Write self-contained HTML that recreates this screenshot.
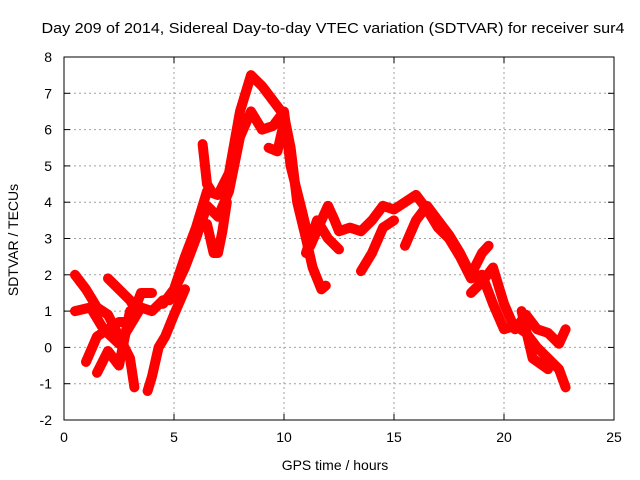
<!DOCTYPE html>
<html><head><meta charset="utf-8"><style>
body{margin:0;background:#fff}
svg{display:block}
text{font-family:"Liberation Sans",sans-serif;font-size:14px;fill:#000}
</style></head><body>
<svg id="chart" width="640" height="480">
<text x="333" y="33" text-anchor="middle" textLength="583" lengthAdjust="spacingAndGlyphs" style="font-size:15px">Day 209 of 2014, Sidereal Day-to-day VTEC variation (SDTVAR) for receiver sur4</text>
<text x="335" y="470" text-anchor="middle">GPS time / hours</text>
<text transform="translate(18,240) rotate(-90)" text-anchor="middle">SDTVAR / TECUs</text>
<g id="grid"></g><g id="series"></g><g id="axes"></g>
</svg>
<script>
const xTicks=[0,5,10,15,20,25];
const yTicks=[-2,-1,0,1,2,3,4,5,6,7,8];
const trackA=[[4.5,1.2],[5,1.6],[5.5,2.5],[6,3.3],[6.5,4.3],[7,4.2],[7.5,4.8],[8,6.5],[8.5,7.5],[9,7.2],[9.5,6.8],[10,6.4],[10.3,5.5],[10.6,4],[11,3],[11.3,2.2],[11.7,1.6],[11.9,1.7]];
const trackB=[[4.8,1.3],[5.5,2.2],[6,3],[6.5,3.9],[7,3.6],[7.5,4.3],[8,5.8],[8.5,6.5],[9,6],[9.5,6.1],[10,6.5],[10.3,5],[10.8,3.8],[11.2,2.8],[11.7,3.5],[12,3.9],[12.3,3.5],[12.5,3.2],[13,3.3],[13.5,3.2],[14,3.5],[14.5,3.9],[15,3.8],[15.5,4],[16,4.2],[16.5,3.8],[17,3.3],[17.5,3],[18,2.5],[18.5,1.9],[19,2],[19.5,1.2],[20,0.5],[20.5,0.6],[21,0.4],[21.5,0],[22,-0.3],[22.5,-0.6],[22.8,-1.1]];
const trackC=[[6.5,3.4],[6.8,2.6],[7,2.6],[7.2,3.2],[7.4,4]];
const trackD1=[[0.5,2],[1,1.6],[1.5,1.1],[2,0.9],[2.5,0.3],[3,-0.3],[3.2,-1.1]];
const trackD2=[[0.5,1],[1.2,1.1],[1.8,0.5],[2.5,0.1],[3,0.6],[3.5,1.1],[4,1.0],[4.5,1.3]];
const trackD3=[[1,-0.4],[1.5,0.3],[2,0.5],[2.5,0.7],[3,0.7],[3.5,1.5],[4,1.5]];
const trackD4=[[1.5,-0.7],[2,-0.1],[2.5,-0.5],[3,1.0]];
const trackD5=[[2,1.9],[2.5,1.6],[3,1.3],[3.3,1.0]];
const trackD6=[[3.8,-1.2],[4,-0.8],[4.3,0],[4.6,0.3],[5,0.9],[5.5,1.6]];
const trackSpike=[[6.3,5.6],[6.5,4.5],[6.7,4.3]];
const trackE=[[9.3,5.5],[9.7,5.4],[10,6.2]];
const trackF1=[[11,2.6],[11.5,3.5],[12,3.0],[12.5,2.7]];
const trackF2=[[13.5,2.1],[14,2.6],[14.5,3.3],[15,3.5]];
const trackF3=[[15.5,2.8],[16,3.5],[16.5,3.9],[17,3.5],[17.5,3.1],[18,2.6],[18.5,2.0],[19,2.6],[19.3,2.8]];
const trackF4=[[18.5,1.5],[19,1.8],[19.5,2.2],[20,1.2],[20.5,0.5],[21,0.9],[21.5,0.5],[22,0.4],[22.5,0.1],[22.8,0.5]];
const trackF5=[[20.8,1],[21.3,-0.3],[22,-0.6]];
const tracks=[trackA,trackB,trackC,trackD1,trackD2,trackD3,trackD4,trackD5,trackD6,trackSpike,trackE,trackF1,trackF2,trackF3,trackF4,trackF5];
const L=64,R=614,T=57,B=420;
const xs=t=>L+(t-0)/25*(R-L);
const ys=v=>B-(v+2)/10*(B-T);
const NS='http://www.w3.org/2000/svg';
const grid=document.getElementById('grid'),axes=document.getElementById('axes'),ser=document.getElementById('series');
function mk(tag,attrs,parent){const e=document.createElementNS(NS,tag);for(const k in attrs)e.setAttribute(k,attrs[k]);parent.appendChild(e);return e;}
xTicks.forEach(t=>{
 if(t>0&&t<25){const g=mk('line',{x1:xs(t),x2:xs(t),y1:T,y2:B,stroke:'#a0a0a0','stroke-dasharray':'2,3'},grid);
 
 }
 const tx=mk('text',{x:xs(t),y:B+22,'text-anchor':'middle'},axes);tx.textContent=t;
 
 
 mk('line',{x1:xs(t),x2:xs(t),y1:B,y2:B-6,stroke:'#000'},axes);
 mk('line',{x1:xs(t),x2:xs(t),y1:T,y2:T+6,stroke:'#000'},axes);
});
yTicks.forEach(v=>{
 if(v>-2&&v<8){const g=mk('line',{x1:L,x2:R,y1:ys(v),y2:ys(v),stroke:'#a0a0a0','stroke-dasharray':'2,3'},grid);
 
 }
 const tx=mk('text',{x:L-12,y:ys(v)+5,'text-anchor':'end'},axes);tx.textContent=v;
 
 
 mk('line',{x1:L,x2:L+6,y1:ys(v),y2:ys(v),stroke:'#000'},axes);
 mk('line',{x1:R,x2:R-6,y1:ys(v),y2:ys(v),stroke:'#000'},axes);
});
const fr=mk('rect',{x:L,y:T,width:R-L,height:B-T,fill:'none',stroke:'#000'},axes);


tracks.forEach(tr=>{
 const p=mk('polyline',{points:tr.map(d=>xs(d[0])+','+ys(d[1])).join(' '),fill:'none',stroke:'#ff0000','stroke-width':10,'stroke-linejoin':'round','stroke-linecap':'round'},ser);
 
 
});
</script>
</body></html>
